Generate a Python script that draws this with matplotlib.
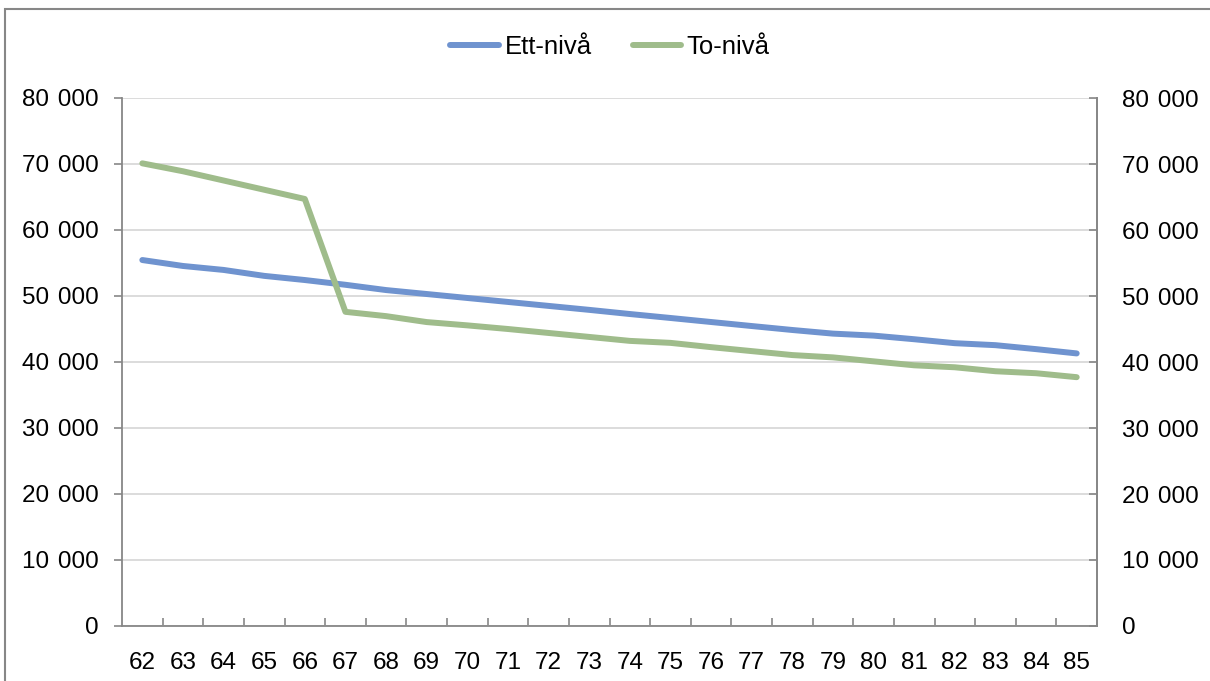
import numpy as np
import matplotlib.pyplot as plt
from matplotlib.ticker import FuncFormatter

# ============ DATA ============
ages = list(range(62, 86))
ett_niva = [55450, 54550, 53950, 53050, 52420, 51700, 50900, 50300, 49700, 49100,
            48500, 47900, 47270, 46670, 46060, 45450, 44850, 44300, 44000, 43450,
            42850, 42550, 41950, 41300]
to_niva = [70100, 68900, 67500, 66100, 64700, 47600, 46950, 46050, 45550, 45000,
           44400, 43800, 43200, 42900, 42250, 41650, 41050, 40700, 40100, 39500,
           39200, 38600, 38300, 37700]
y_ticks = [0, 10000, 20000, 30000, 40000, 50000, 60000, 70000, 80000]

plt.rcParams['font.family'] = ['Liberation Sans', 'DejaVu Sans']


def fmt(v, p):
    # thousands separated by a slightly wide space, like the original
    return f'{int(v):,}'.replace(',', ' \u200a')


fig = plt.figure(figsize=(12.1, 6.81), dpi=100)
ax = fig.add_axes([122 / 1210, 1 - 626 / 681, 975 / 1210, 528 / 681])

x = np.arange(len(ages)) + 0.5
ax.plot(x, ett_niva, color='#6F93CF', lw=4.3, label='Ett-nivå', solid_capstyle='round')
ax.plot(x, to_niva, color='#9FBC8B', lw=4.3, label='To-nivå', solid_capstyle='round')

ax.set_xlim(0, len(ages))
ax.set_ylim(0, 80000)
ax.set_yticks(y_ticks)
ax.yaxis.set_major_formatter(FuncFormatter(fmt))
ax.grid(axis='y', color='#D9D9D9', lw=1.3)
ax.set_axisbelow(True)

# category ticks between labels, labels centred under categories
ax.set_xticks(np.arange(1, len(ages)))
ax.set_xticklabels([])
ax.set_xticks(x, minor=True)
ax.set_xticklabels([str(a) for a in ages], minor=True)
ax.tick_params(axis='x', which='major', direction='in', length=6, color='#878787', width=1.2)
ax.tick_params(axis='x', which='minor', length=0, pad=19, labelsize=17.5)
ax.tick_params(axis='y', direction='out', length=6, color='#878787', width=1.2,
               labelsize=17.5, pad=11)

for side in ['left', 'bottom', 'right']:
    ax.spines[side].set_color('#878787')
    ax.spines[side].set_linewidth(1.3)
ax.spines['top'].set_visible(False)

ax2 = ax.twinx()
ax2.set_ylim(0, 80000)
ax2.set_yticks(y_ticks)
ax2.yaxis.set_major_formatter(FuncFormatter(fmt))
ax2.tick_params(axis='y', direction='in', length=6, color='#878787', width=1.2,
                labelsize=17.5, pad=18)
for s in ax2.spines.values():
    s.set_visible(False)
ax2.spines['right'].set_visible(True)
ax2.spines['right'].set_color('#878787')
ax2.spines['right'].set_linewidth(1.3)

fig.legend(loc='center', bbox_to_anchor=(610 / 1210, 1 - 47 / 681), ncol=2, frameon=False,
           fontsize=18.5, handlelength=1.9, columnspacing=1.6, handletextpad=0.2)

# outer chart frame
fig.add_artist(plt.Rectangle((5 / 1210, -0.1), 1.2, 1 - 9 / 681 + 0.1, transform=fig.transFigure,
                             fill=False, edgecolor='#878787', lw=1.5))

plt.savefig('out.png', dpi=100)
plt.close()
